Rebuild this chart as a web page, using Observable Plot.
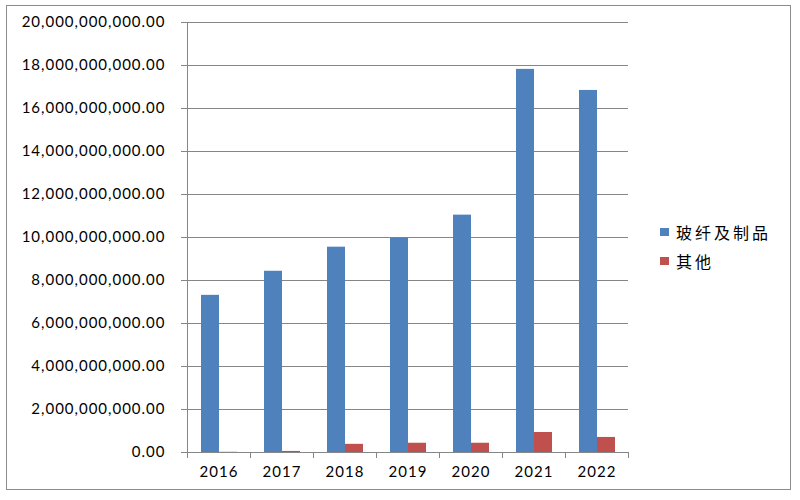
<!DOCTYPE html>
<html><head><meta charset="utf-8">
<script src="https://cdn.jsdelivr.net/npm/d3@7"></script>
<script src="https://cdn.jsdelivr.net/npm/@observablehq/plot@0.6"></script>
<style>
body{margin:0;background:#fff;}
#wrap{position:relative;width:800px;height:500px;overflow:hidden;}
#border{position:absolute;left:6px;top:5px;width:785px;height:485px;border:1.5px solid #8c8c8c;box-sizing:border-box;}
#chart{position:absolute;left:0;top:0;}
#legend{position:absolute;left:660px;top:217px;font-family:"Noto Sans CJK SC";font-size:16px;letter-spacing:3px;color:#000;}
#legend .row{display:flex;align-items:center;height:29px;}
#legend .key{width:9px;height:8px;margin-right:7px;}
</style>
</head><body>
<div id="wrap"><div id="border"></div><div id="chart"></div><div id="legend"></div></div>
<script>
const years = ["2016","2017","2018","2019","2020","2021","2022"];
const series = ["玻纤及制品","其他"];
const glassFiber = [7.31e9, 8.43e9, 9.55e9, 9.97e9, 11.04e9, 17.82e9, 16.84e9];
const other = [0.01e9, 0.05e9, 0.38e9, 0.43e9, 0.43e9, 0.93e9, 0.70e9];
const colors = ["#4f81bd", "#c0504d"];
const yTicks = [0, 2e9, 4e9, 6e9, 8e9, 10e9, 12e9, 14e9, 16e9, 18e9, 20e9];

const data = years.flatMap((y, i) => [
  {year: y, series: series[0], value: glassFiber[i]},
  {year: y, series: series[1], value: other[i]}
]);

const axisColor = "#868686";
const chart = Plot.plot({
  width: 800, height: 500,
  marginLeft: 186, marginRight: 171, marginTop: 22, marginBottom: 48,
  style: {fontFamily: "Lato", fontSize: "15px", color: "#000", background: "transparent", letterSpacing: "1px"},
  fx: {domain: years, padding: 0, label: null},
  x: {domain: series, paddingInner: 0, paddingOuter: 0.75, axis: null},
  y: {domain: [0, 20e9], label: null},
  color: {domain: series, range: colors},
  marks: [
    Plot.gridY(yTicks, {stroke: axisColor, strokeOpacity: 1, strokeWidth: 1}),
    Plot.barY(data, {fx: "year", x: "series", y: "value", fill: "series"}),
    Plot.ruleY([0], {stroke: axisColor, strokeWidth: 1}),
    Plot.frame({anchor: "left", facetAnchor: "left", stroke: axisColor}),
    Plot.frame({anchor: "left", stroke: axisColor, insetTop: 430, insetBottom: -5}),
    Plot.frame({anchor: "right", stroke: axisColor, insetTop: 430, insetBottom: -5}),
    Plot.axisY(yTicks, {tickSize: 6, tickPadding: 16, stroke: axisColor, tickFormat: d3.format(",.2f"), label: null}),
    Plot.axisFx({anchor: "bottom", tickSize: 0, tickPadding: 14, label: null})
  ]
});
document.getElementById("chart").appendChild(chart);

const legend = document.getElementById("legend");
series.forEach((s, i) => {
  const row = document.createElement("div");
  row.className = "row";
  const key = document.createElement("span");
  key.className = "key";
  key.style.background = colors[i];
  const label = document.createElement("span");
  label.textContent = s;
  row.appendChild(key);
  row.appendChild(label);
  legend.appendChild(row);
});
</script>
</body></html>
